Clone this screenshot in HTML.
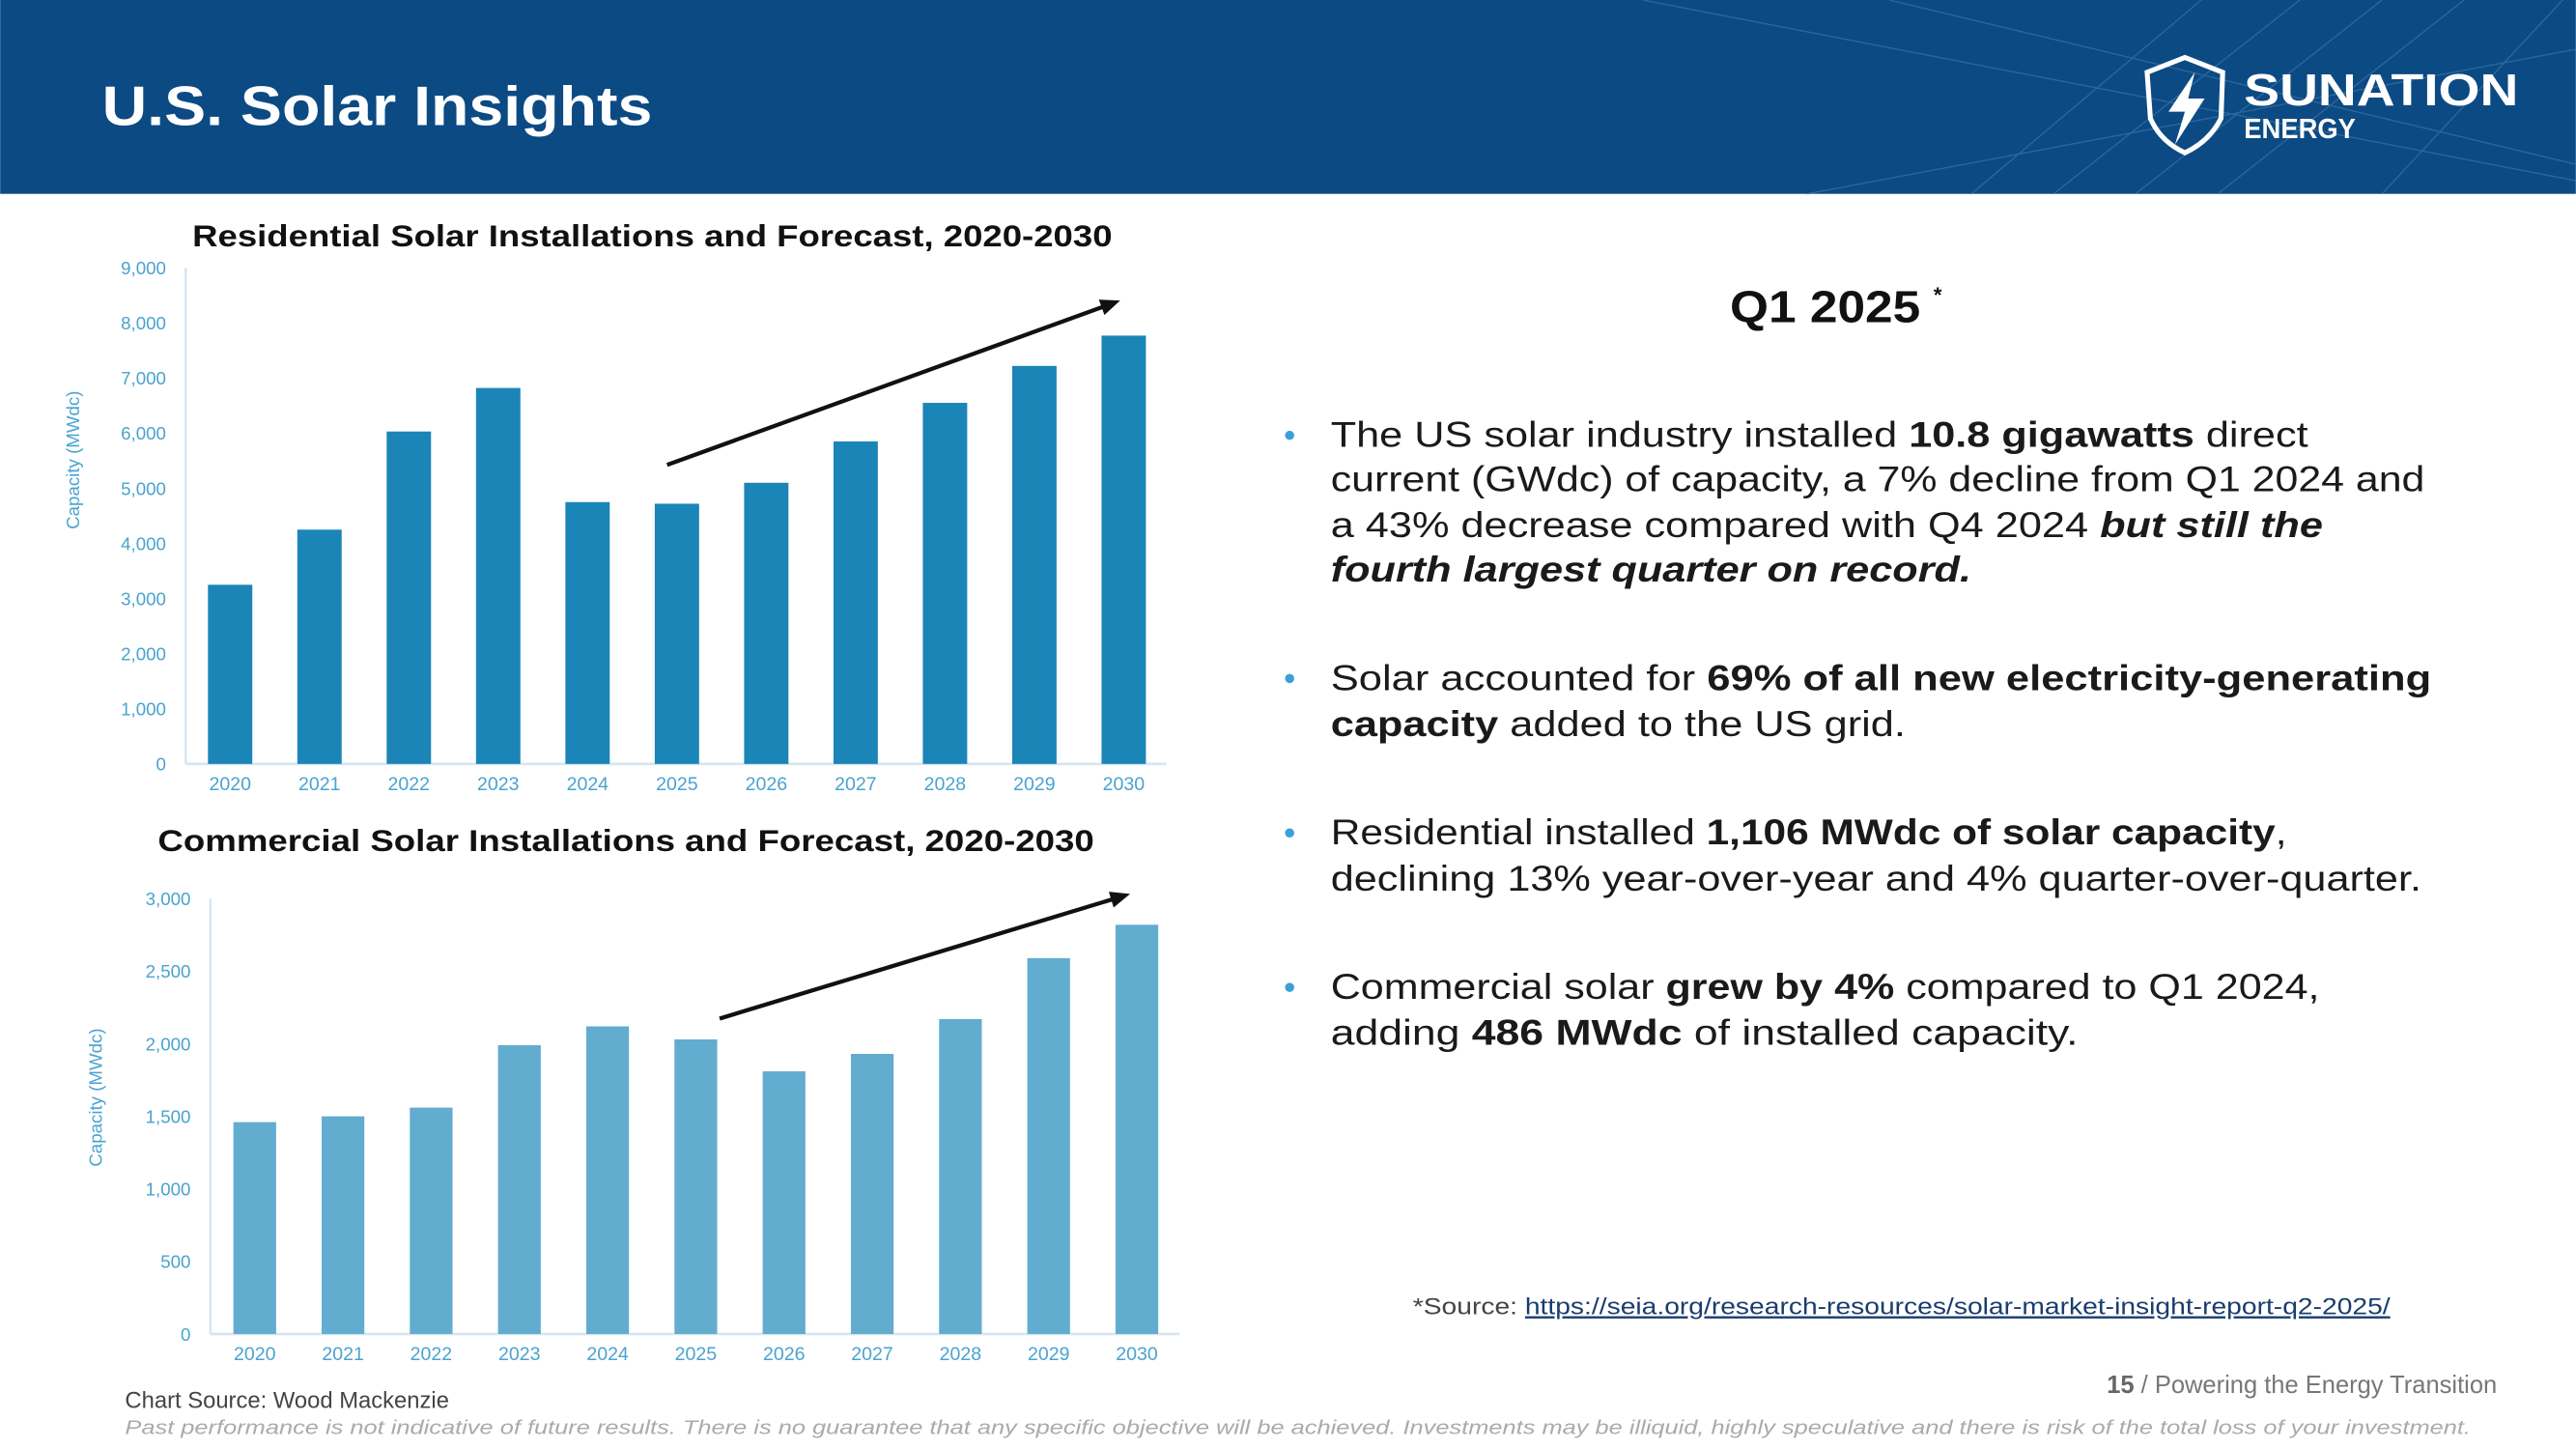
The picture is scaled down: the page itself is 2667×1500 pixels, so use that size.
<!DOCTYPE html>
<html><head><meta charset="utf-8"><style>
html,body{margin:0;padding:0;width:2667px;height:1500px;overflow:hidden;background:#fff}
svg{display:block}
text{font-family:"Liberation Sans",sans-serif}
</style></head><body>
<svg id="page" width="2667" height="1500" viewBox="0 0 1568 882" xmlns="http://www.w3.org/2000/svg">
<rect x="0" y="0" width="1568" height="118" fill="#0c4a83"/>
<g stroke="#3a73a8" stroke-width="0.8" opacity="0.7">
<line x1="1000" y1="0" x2="1568" y2="110"/><line x1="1100" y1="118" x2="1568" y2="30"/>
<line x1="1150" y1="0" x2="1568" y2="100"/><line x1="1250" y1="118" x2="1400" y2="0"/>
<line x1="1300" y1="118" x2="1450" y2="0"/><line x1="1350" y1="118" x2="1500" y2="0"/>
<line x1="1450" y1="118" x2="1560" y2="0"/><line x1="1200" y1="118" x2="1340" y2="0"/>
</g>
<text x="62" y="76" font-size="34" font-weight="bold" fill="#fff" textLength="335" lengthAdjust="spacingAndGlyphs">U.S. Solar Insights</text>
<g>
<path d="M1307 44 L1330 35 L1353 44 L1352 72 Q1345 86 1330 93 Q1315 86 1309 72 Z" fill="none" stroke="#fff" stroke-width="3"/>
<path d="M1336 44 L1320 68 L1330 68 L1324 88 L1342 60 L1332 60 Z" fill="#fff"/>
<text x="1366" y="64" font-size="27" font-weight="bold" fill="#fff" textLength="167" lengthAdjust="spacingAndGlyphs">SUNATION</text>
<text x="1366" y="84" font-size="17" font-weight="bold" fill="#fff" textLength="68" lengthAdjust="spacingAndGlyphs">ENERGY</text>
</g>

<text x="117" y="150" font-size="18.5" font-weight="bold" fill="#111" textLength="560" lengthAdjust="spacingAndGlyphs">Residential Solar Installations and Forecast, 2020-2030</text>
<g id="resChart"></g>
<text x="96" y="518" font-size="18.5" font-weight="bold" fill="#111" textLength="570" lengthAdjust="spacingAndGlyphs">Commercial Solar Installations and Forecast, 2020-2030</text>
<g id="comChart"></g>

<text x="1053" y="196" font-size="27" font-weight="bold" fill="#111" textLength="116" lengthAdjust="spacingAndGlyphs">Q1 2025</text>
<text x="1177" y="184" font-size="13" font-weight="bold" fill="#111">*</text>

<g font-size="22" fill="#1a1a1a">
<g>
<circle cx="785" cy="265" r="2.8" fill="#3aa0d8"/>
<text x="810" y="272" textLength="595" lengthAdjust="spacingAndGlyphs">The US solar industry installed <tspan font-weight="bold">10.8 gigawatts</tspan> direct</text>
<text x="810" y="299" textLength="666" lengthAdjust="spacingAndGlyphs">current (GWdc) of capacity, a 7% decline from Q1 2024 and</text>
<text x="810" y="327" textLength="604" lengthAdjust="spacingAndGlyphs">a 43% decrease compared with Q4 2024 <tspan font-weight="bold" font-style="italic">but still the</tspan></text>
<text x="810" y="354" textLength="390" lengthAdjust="spacingAndGlyphs" font-weight="bold" font-style="italic">fourth largest quarter on record.</text>
</g>
<g>
<circle cx="785" cy="413" r="2.8" fill="#3aa0d8"/>
<text x="810" y="420" textLength="670" lengthAdjust="spacingAndGlyphs">Solar accounted for <tspan font-weight="bold">69% of all new electricity-generating</tspan></text>
<text x="810" y="448" textLength="350" lengthAdjust="spacingAndGlyphs"><tspan font-weight="bold">capacity</tspan> added to the US grid.</text>
</g>
<g>
<circle cx="785" cy="507" r="2.8" fill="#3aa0d8"/>
<text x="810" y="514" textLength="582" lengthAdjust="spacingAndGlyphs">Residential installed <tspan font-weight="bold">1,106 MWdc of solar capacity</tspan>,</text>
<text x="810" y="542" textLength="664" lengthAdjust="spacingAndGlyphs">declining 13% year-over-year and 4% quarter-over-quarter.</text>
</g>
<g>
<circle cx="785" cy="601" r="2.8" fill="#3aa0d8"/>
<text x="810" y="608" textLength="602" lengthAdjust="spacingAndGlyphs">Commercial solar <tspan font-weight="bold">grew by 4%</tspan> compared to Q1 2024,</text>
<text x="810" y="636" textLength="455" lengthAdjust="spacingAndGlyphs">adding <tspan font-weight="bold">486 MWdc</tspan> of installed capacity.</text>
</g>
</g>

<text x="860" y="800" font-size="14" fill="#444" textLength="595" lengthAdjust="spacingAndGlyphs">*Source: <tspan fill="#1a3d6e" text-decoration="underline">https://seia.org/research-resources/solar-market-insight-report-q2-2025/</tspan></text>
<text x="1520" y="848" font-size="15" fill="#777" text-anchor="end"><tspan font-weight="bold" fill="#666">15</tspan> / Powering the Energy Transition</text>
<text x="76" y="857" font-size="14" fill="#444">Chart Source: Wood Mackenzie</text>
<text x="76" y="873" font-size="12" font-style="italic" fill="#aaa" textLength="1428" lengthAdjust="spacingAndGlyphs">Past performance is not indicative of future results. There is no guarantee that any specific objective will be achieved. Investments may be illiquid, highly speculative and there is risk of the total loss of your investment.</text>
</svg>
<script>
const years = ["2020","2021","2022","2023","2024","2025","2026","2027","2028","2029","2030"];
const resValues = [3250,4250,6030,6820,4750,4720,5100,5850,6550,7220,7770];
const resTicks = [0,1000,2000,3000,4000,5000,6000,7000,8000,9000];
const comValues = [1460,1500,1560,1990,2120,2030,1810,1930,2170,2590,2820];
const comTicks = [0,500,1000,1500,2000,2500,3000];
const NS = "http://www.w3.org/2000/svg";
function mk(tag, attrs, parent){const e=document.createElementNS(NS,tag);for(const k in attrs)e.setAttribute(k,attrs[k]);parent.appendChild(e);return e;}
function draw(g, vals, ticks, cfg, prefix){
  const max = ticks[ticks.length-1];
  const y = v => cfg.y0 - (v/max)*(cfg.y0-cfg.yTop);
  const x = i => cfg.x0 + i*cfg.step;
  const ax = mk("line",{x1:cfg.axX,y1:cfg.yTop,x2:cfg.axX,y2:cfg.y0,stroke:"#d6e6f0","stroke-width":1.5},g);
  
  
  const bx = mk("line",{x1:cfg.axX,y1:cfg.y0,x2:cfg.axEnd,y2:cfg.y0,stroke:"#d6e6f0","stroke-width":1.5},g);
  
  
  ticks.forEach(t=>{
    const tl = mk("text",{x:cfg.axX-12,y:y(t)+4,"font-size":11,fill:"#4aa3d0","text-anchor":"end"},g);
    tl.textContent = t.toLocaleString("en-US");
    
    
  });
  vals.forEach((v,i)=>{
    const r = mk("rect",{x:x(i)-cfg.bw/2,y:y(v),width:cfg.bw,height:cfg.y0-y(v),fill:cfg.color},g);
    
    
    const xl = mk("text",{x:x(i),y:cfg.y0+16,"font-size":11.5,fill:"#4aa3d0","text-anchor":"middle"},g);
    xl.textContent = years[i];
    
    
  });
  const yt = mk("text",{x:0,y:0,"font-size":11,fill:"#4aa3d0","text-anchor":"middle",transform:`translate(${cfg.titleX},${cfg.titleY}) rotate(-90)`},g);
  yt.textContent = "Capacity (MWdc)";
  
  
  const ar = mk("line",{x1:cfg.arrow[0],y1:cfg.arrow[1],x2:cfg.arrow[2],y2:cfg.arrow[3],stroke:"#111","stroke-width":2.5},g);
  
  
  const dx=cfg.arrow[2]-cfg.arrow[0], dy=cfg.arrow[3]-cfg.arrow[1], L=Math.hypot(dx,dy), ux=dx/L, uy=dy/L;
  const hx=cfg.arrow[2], hy=cfg.arrow[3];
  const hd = mk("polygon",{points:`${hx+ux*3},${hy+uy*3} ${hx-ux*9-uy*5},${hy-uy*9+ux*5} ${hx-ux*9+uy*5},${hy-uy*9-ux*5}`,fill:"#111"},g);
  
  
}
draw(document.getElementById("resChart"), resValues, resTicks,
  {x0:140,step:54.4,bw:27,y0:465,yTop:163,axX:113,axEnd:710,titleX:48,titleY:280,color:"#1b85b8",arrow:[406,283,679,184]}, "residential");
draw(document.getElementById("comChart"), comValues, comTicks,
  {x0:155,step:53.7,bw:26,y0:812,yTop:547,axX:128,axEnd:718,titleX:62,titleY:668,color:"#62acd0",arrow:[438,620,685,545]}, "commercial");
</script>
</body></html>
